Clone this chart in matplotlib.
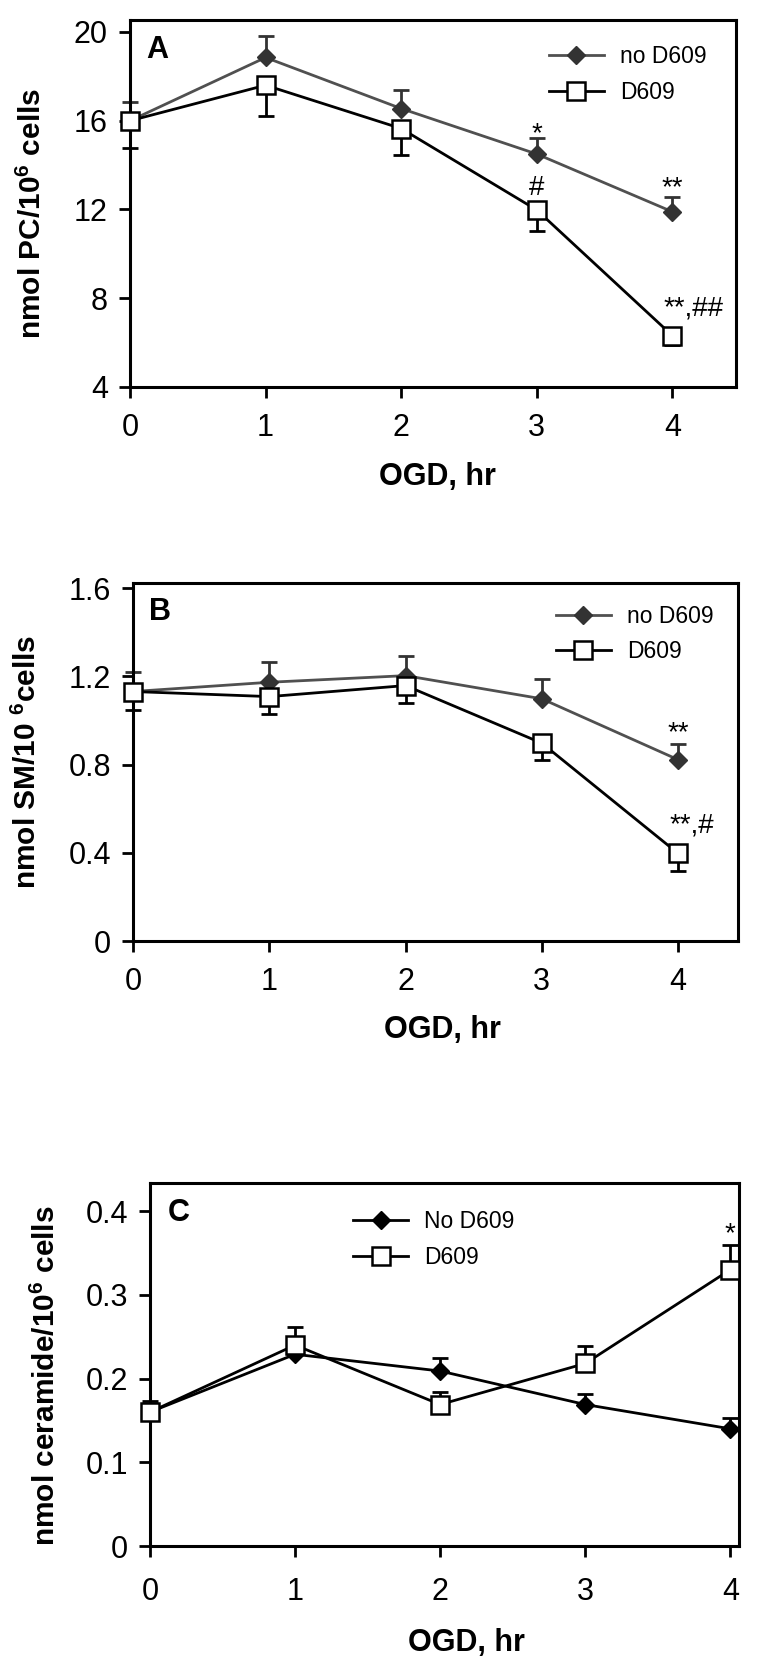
import numpy as np
import matplotlib.pyplot as plt

plt.rcParams['font.family'] = ['Liberation Sans', 'DejaVu Sans']
plt.rcParams['mathtext.fontset'] = 'custom'
plt.rcParams['mathtext.rm'] = 'Liberation Sans'
plt.rcParams['mathtext.bf'] = 'Liberation Sans:bold'

hours = [0, 1, 2, 3, 4]

# A - PC (no D609 errors go up, D609 errors go down)
pc_no = [16.0, 18.85, 16.55, 14.5, 11.9]
pc_no_err = [0.84, 0.99, 0.84, 0.74, 0.65]
pc_d609 = [16.0, 17.6, 15.65, 11.98, 6.32]
pc_d609_err = [1.21, 1.38, 1.21, 0.93, 0.43]
pc_ticks = [4, 8, 12, 16, 20]
pc_ticklabels = ['4', '8', '12', '16', '20']

# B - SM
sm_no = [1.131, 1.173, 1.203, 1.098, 0.822]
sm_no_err = [0.09, 0.09, 0.088, 0.09, 0.072]
sm_d609 = [1.131, 1.108, 1.158, 0.897, 0.397]
sm_d609_err = [0.083, 0.081, 0.08, 0.078, 0.079]
sm_ticks = [0, 0.4, 0.8, 1.2, 1.6]
sm_ticklabels = ['0', '0.4', '0.8', '1.2', '1.6']

# C - ceramide (both upper errors)
cer_no = [0.160, 0.229, 0.209, 0.169, 0.140]
cer_no_err = [0.013, 0.015, 0.015, 0.012, 0.013]
cer_d609 = [0.160, 0.240, 0.169, 0.218, 0.330]
cer_d609_err = [0.0, 0.021, 0.015, 0.021, 0.030]
cer_ticks = [0, 0.1, 0.2, 0.3, 0.4]
cer_ticklabels = ['0', '0.1', '0.2', '0.3', '0.4']

zeros = [0] * len(hours)

fig = plt.figure(figsize=(7.68, 16.61), dpi=100)
axA = fig.add_axes([0.1693, 0.76701, 0.789, 0.22095])
axB = fig.add_axes([0.1732, 0.43347, 0.7878, 0.21554])
axC = fig.add_axes([0.1953, 0.06923, 0.7669, 0.21825])


def draw(ax, no, no_err, d609, d609_err, d609_down, no_col, no_line, no_label):
    ax.errorbar(hours, no, yerr=[zeros, no_err], fmt='none', ecolor=no_col,
                elinewidth=2, capsize=5.5, capthick=2, zorder=2, clip_on=False)
    if d609_down:
        err = [d609_err, zeros]
    else:
        err = [zeros, d609_err]
    ax.errorbar(hours, d609, yerr=err, fmt='none', ecolor='black',
                elinewidth=2, capsize=5.5, capthick=2, zorder=2, clip_on=False)
    ax.plot(hours, no, color=no_line, lw=2, marker='D', ms=9.5, mfc=no_col,
            mec=no_col, label=no_label, zorder=3, clip_on=False)
    ax.plot(hours, d609, color='black', lw=2, marker='s', ms=12.5, mfc='white',
            mec='black', mew=1.8, label='D609', zorder=4, clip_on=False)
    for s in ax.spines.values():
        s.set_linewidth(2.2)
    ax.tick_params(direction='out', length=8, width=2, labelsize=22, pad=8,
                   top=False, right=False)
    ax.set_xticks(hours)


def legend(ax, x, y):
    ax.legend(loc='upper left', bbox_to_anchor=(x, y), frameon=False,
              fontsize=16.5, handlelength=2.4, handletextpad=0.7,
              labelspacing=0.55, borderpad=0, borderaxespad=0)


draw(axA, pc_no, pc_no_err, pc_d609, pc_d609_err, True, '#333333', '#505050', 'no D609')
axA.set_xlim(0, 4.47)
axA.set_ylim(4, 20.54)
axA.set_yticks(pc_ticks)
axA.set_yticklabels(pc_ticklabels)
axA.tick_params(axis='x', pad=11)
axA.set_ylabel('nmol PC/10$^\\mathbf{6}$ cells', fontsize=21.5, fontweight='bold')
axA.yaxis.set_label_coords(-0.137, 0.474)
axA.set_xlabel('OGD, hr', fontsize=22, fontweight='bold', va='top')
axA.xaxis.set_label_coords(0.507, -0.205)
axA.text(0.045, 0.918, 'A', transform=axA.transAxes, fontsize=22,
         fontweight='bold', ha='center', va='center')
axA.text(3, 15.1, '*', fontsize=20, ha='center', va='baseline')
axA.text(3, 12.66, '#', fontsize=20, ha='center', va='baseline')
axA.text(4, 12.66, '**', fontsize=20, ha='center', va='baseline')
axA.text(4.16, 7.2, '**,##', fontsize=20, ha='center', va='baseline')
legend(axA, 0.691, 0.932)

draw(axB, sm_no, sm_no_err, sm_d609, sm_d609_err, True, '#333333', '#505050', 'no D609')
axB.set_xlim(0, 4.44)
axB.set_ylim(0, 1.623)
axB.set_yticks(sm_ticks)
axB.set_yticklabels(sm_ticklabels)
axB.tick_params(axis='x', pad=11)
axB.set_ylabel('nmol SM/10 $^\\mathbf{6}$cells', fontsize=21.5, fontweight='bold')
axB.yaxis.set_label_coords(-0.150, 0.5)
axB.set_xlabel('OGD, hr', fontsize=22, fontweight='bold', va='top')
axB.xaxis.set_label_coords(0.511, -0.207)
axB.text(0.045, 0.919, 'B', transform=axB.transAxes, fontsize=22,
         fontweight='bold', ha='center', va='center')
axB.text(4, 0.91, '**', fontsize=20, ha='center', va='baseline')
axB.text(4.1, 0.494, '**,#', fontsize=20, ha='center', va='baseline')
legend(axB, 0.699, 0.939)

draw(axC, cer_no, cer_no_err, cer_d609, cer_d609_err, False, 'black', 'black', 'No D609')
axC.set_xlim(0, 4.06)
axC.set_ylim(0, 0.433)
axC.set_yticks(cer_ticks)
axC.set_yticklabels(cer_ticklabels)
axC.tick_params(axis='x', pad=14)
axC.set_ylabel('nmol ceramide/10$^\\mathbf{6}$ cells', fontsize=21.5, fontweight='bold')
axC.yaxis.set_label_coords(-0.151, 0.469)
axC.set_xlabel('OGD, hr', fontsize=22, fontweight='bold', va='top')
axC.xaxis.set_label_coords(0.538, -0.226)
axC.text(0.048, 0.919, 'C', transform=axC.transAxes, fontsize=22,
         fontweight='bold', ha='center', va='center')
axC.text(4, 0.364, '*', fontsize=20, ha='center', va='baseline')
legend(axC, 0.345, 0.927)

fig.savefig('out.png', dpi=100)
